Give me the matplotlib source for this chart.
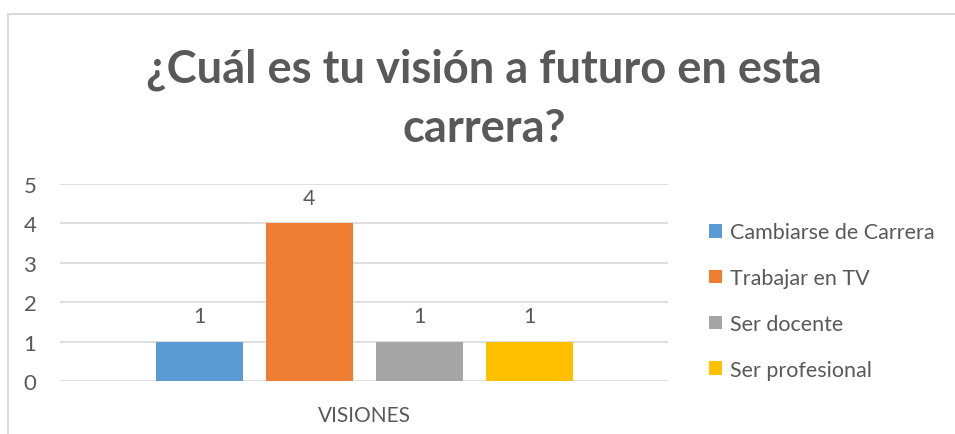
import matplotlib.pyplot as plt
from matplotlib.patches import Rectangle, Patch
import numpy as np

categories = ["VISIONES"]
series_names = ["Cambiarse de Carrera", "Trabajar en TV", "Ser docente", "Ser profesional"]
series_values = [1, 4, 1, 1]
colors = ["#5b9bd5", "#ed7d31", "#a5a5a5", "#ffc000"]
y_ticks = [0, 1, 2, 3, 4, 5]
title = "¿Cuál es tu visión a futuro en esta\ncarrera?"

text_color = "#595959"
grid_color = "#d9d9d9"
plt.rcParams['font.family'] = ['Lato', 'DejaVu Sans']

fig = plt.figure(figsize=(9.55, 4.35), dpi=100)

# chart border (cropped on the right and bottom like the screenshot)
fig.patches.append(Rectangle((8 / 955, -0.1), 1.2, 1 - 15 / 435 + 0.1,
                             transform=fig.transFigure, fill=False,
                             edgecolor=grid_color, linewidth=1.5))

ax = fig.add_axes([60 / 955, 1 - 382 / 435, 608 / 955, 197 / 435])

bar_w = 87 / 608
step = 110 / 608
offsets = (np.arange(len(series_values)) - 1.5) * step
for off, val, col, name in zip(offsets, series_values, colors, series_names):
    ax.bar(off, val, width=bar_w, color=col, label=name, zorder=3)
    ax.text(off, val + 0.65, str(val), ha='center', va='center',
            fontsize=15.5, color=text_color)

ax.set_xlim(-0.5, 0.5)
ax.set_ylim(0, 5)
ax.set_yticks(y_ticks)
ax.set_xticks([0])
ax.set_xticklabels(categories)
ax.tick_params(axis='y', length=0, pad=17, labelsize=16, labelcolor=text_color)
ax.tick_params(axis='x', length=0, pad=17, labelsize=15, labelcolor=text_color)
ax.grid(axis='y', color=grid_color, linewidth=1.2, zorder=0)
for s in ax.spines.values():
    s.set_visible(False)

fig.text(484 / 955, 1 - 99 / 435, title, ha='center', va='center',
         fontsize=32.7, fontweight='bold', color=text_color, linespacing=1.5)

handles = [Patch(facecolor=c, edgecolor='none') for c in colors]
leg = fig.legend(handles, series_names, loc='upper left',
                 bbox_to_anchor=(690 / 955, 1 - 204 / 435),
                 frameon=False, fontsize=15.5, labelcolor=text_color,
                 handlelength=0.6, handleheight=0.6, handletextpad=0.35,
                 labelspacing=1.2)

fig.savefig("out.png", dpi=100)
